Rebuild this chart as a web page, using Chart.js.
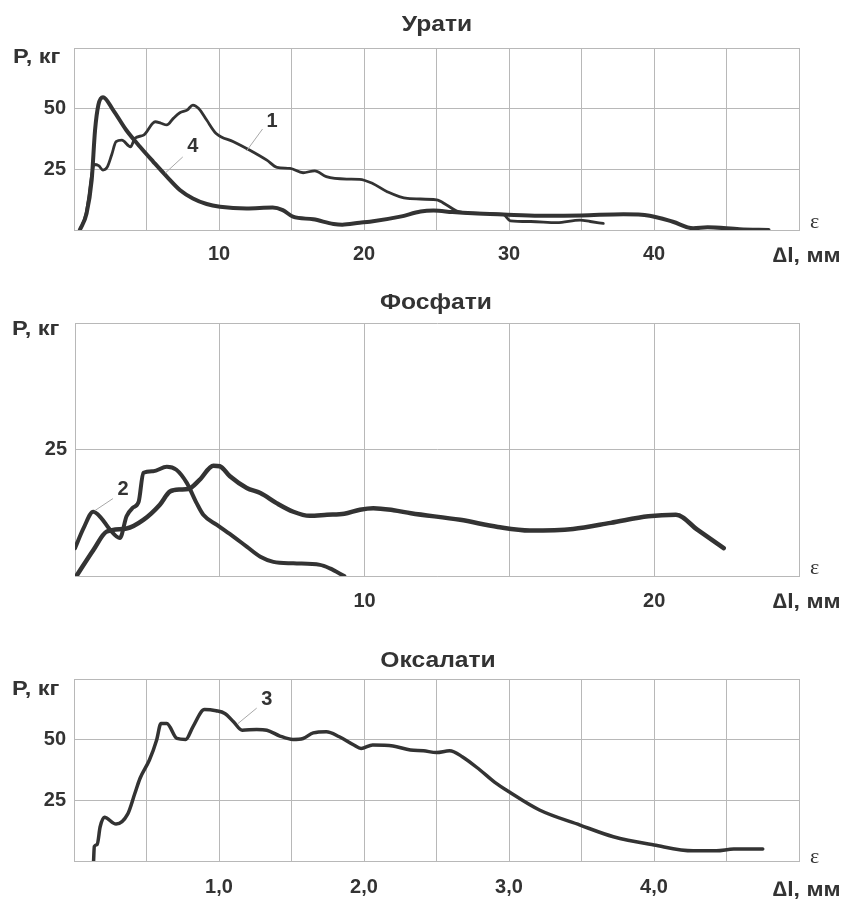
<!DOCTYPE html>
<html><head><meta charset="utf-8">
<script src="https://cdn.jsdelivr.net/npm/chart.js@4.4.1/dist/chart.umd.min.js"></script>
<style>
body{margin:0;background:#fff;width:846px;height:899px;position:relative;overflow:hidden;font-family:"Liberation Sans",Arial,sans-serif;color:#333}
canvas{position:absolute;left:0;top:0}
.t{position:absolute;font-weight:bold;white-space:nowrap;line-height:1;font-size:22px;transform:translate(-50%,-50%) scaleX(1.12)}
.l{position:absolute;font-weight:bold;white-space:nowrap;line-height:1;font-size:20px;transform-origin:0 50%;transform:translateY(-50%) scaleX(1.18)}
.d{position:absolute;font-weight:bold;white-space:nowrap;line-height:1;font-size:21px;transform-origin:0 50%;transform:translateY(-50%) scaleX(1.1)}
.eps{position:absolute;font-family:"Liberation Serif","DejaVu Serif",serif;font-size:22px;line-height:1;transform:translateY(-50%)}
</style></head><body>
<canvas id="c1" width="846" height="899"></canvas>
<canvas id="c2" width="846" height="899"></canvas>
<canvas id="c3" width="846" height="899"></canvas>

<div class="t" style="left:437px;top:24px">Урати</div>
<div class="l" style="left:13px;top:56px">P, кг</div>
<div class="eps" style="left:810px;top:221px">ε</div>
<div class="d" style="left:773px;top:254px">∆l, мм</div>

<div class="t" style="left:436px;top:302px">Фосфати</div>
<div class="l" style="left:12px;top:328px">P, кг</div>
<div class="eps" style="left:810px;top:567px">ε</div>
<div class="d" style="left:773px;top:600px">∆l, мм</div>

<div class="t" style="left:438px;top:660px">Оксалати</div>
<div class="l" style="left:12px;top:688px">P, кг</div>
<div class="eps" style="left:810px;top:856px">ε</div>
<div class="d" style="left:773px;top:888px">∆l, мм</div>

<script>
// ---- Урати (panel 1) ----
const urate1X = [0.4,0.8,1.0,1.2,1.4,1.7,2.0,2.3,2.6,2.9,3.3,3.9,4.2,4.8,5.6,6.0,6.4,6.85,7.3,7.8,8.2,8.6,9.15,9.8,11.0,12.1,13.3,14.0,14.9,15.8,16.6,17.4,18.8,19.7,20.6,21.6,23.0,25.0,25.7,26.4,27.5,29.6,30.1,31.5,33.3,34.9,35.6,36.5];
const urate1Y = [0,6,13,22,27,26.5,24.7,26,31,36.4,37,34.3,37.8,39.1,44.6,44,43.3,46,48.3,49.4,51.5,50.1,45.3,39.8,36.4,33,28.8,25.8,25.4,23.6,24.4,22,21,20.9,19.2,15.8,13,12.4,10.3,7.8,6.9,6.4,3.8,3.5,3.0,4.1,3.5,2.7];
const urate4X = [0.4,0.87,1.22,1.45,1.68,2.0,2.7,3.6,4.55,5.47,6.4,7.3,8.2,9.15,10.07,11.9,13.7,14.4,15.1,16.5,17.9,18.5,19.7,20.4,22.5,23.9,24.8,26.1,27.5,29.6,32.1,35.0,37.9,39.7,41.3,42.7,43.7,45.9,47.9];
const urate4Y = [0,6.9,20.6,41,51.5,54.7,49.4,41.2,34.3,28.1,22,16.5,13,10.7,9.6,8.9,9.3,8.2,5.5,4.4,2.5,2.2,3.0,3.4,5.5,7.6,8.0,7.4,6.9,6.4,5.9,6.0,6.5,5.9,3.4,0.7,1.1,0.3,0];
const urateXTicks = [10,20,30,40];
const urateYTicks = [25,50];

// ---- Фосфати (panel 2) ----
const phos2X = [0,0.3,0.63,0.9,1.2,1.55,1.78,2.0,2.2,2.36,2.7,3.17,3.5,3.86,4.2,4.43,4.9,5.47,5.93,6.4,6.85,7.54,8.46,8.8,9.3];
const phos2Y = [5.5,9.5,12.7,11.5,9.2,7.5,11.8,13.5,14.7,20.4,20.7,21.6,21,18.4,14.4,12.1,10.1,7.8,5.8,3.8,2.8,2.5,2.2,1.5,0];
const phosLongX = [0.05,0.63,1.1,1.78,2.36,2.93,3.28,3.63,3.91,4.3,4.78,5.0,5.35,5.93,6.4,6.96,7.54,8.1,8.7,9.3,9.84,10.3,11.0,11.6,13.3,14.6,15.7,17.2,18.5,19.8,20.75,21.5,22.4];
const phosLongY = [0,5.1,8.8,9.4,11.1,14.1,16.7,17.1,17.2,19,21.8,21.7,19.7,17.4,16.4,14.4,12.7,11.9,12.1,12.3,13.1,13.4,13.0,12.4,11.1,9.7,9.0,9.3,10.5,11.8,12.1,9.1,5.5];
const phosXTicks = [10,20];
const phosYTicks = [25];

// ---- Оксалати (panel 3) ----
const oxal3X = [0.135,0.14,0.16,0.18,0.21,0.29,0.37,0.42,0.455,0.52,0.57,0.6,0.64,0.71,0.77,0.82,0.9,0.98,1.04,1.1,1.16,1.26,1.33,1.42,1.51,1.58,1.65,1.74,1.83,1.93,1.98,2.06,2.2,2.32,2.41,2.5,2.59,2.68,2.8,2.9,3.0,3.21,3.49,3.72,4.0,4.27,4.43,4.55,4.75];
const oxal3Y = [0,6,6.8,14,18,15.2,19.3,27.9,34,41.6,49.9,56.7,56.7,50.5,50.1,55.3,62.4,61.9,60.8,57.4,53.9,54.2,53.9,51.5,50.1,50.5,52.8,53.3,51.2,47.8,46.4,47.8,47.4,45.7,45.4,44.7,45.4,42.9,37.5,32.5,28.5,21,14.8,10,6.6,4.2,4.2,4.9,4.9];
const oxalXTicks = [1,2,3,4];
const oxalYTicks = [25,50];

// curve number labels with leader lines (data coordinates)
const urateNotes = [
  {text:'1', tx:13.66, ty:44.9, x1:13.0, y1:41.6, x2:11.9, y2:32.6},
  {text:'4', tx:8.2, ty:34.6, x1:7.5, y1:30.1, x2:6.3, y2:23.5}
];
const phosNotes = [
  {text:'2', tx:1.66, ty:17.1, x1:1.31, y1:15.3, x2:0.68, y2:12.9}
];
const oxalNotes = [
  {text:'3', tx:1.33, ty:66.7, x1:1.26, y1:63, x2:1.13, y2:56.6}
];

const FONT = "'Liberation Sans', Arial, sans-serif";
const TXT = '#333333';
const GRID = '#b8b8b8';
const LINE = '#333333';

function pts(xs, ys){ return xs.map((x,i)=>({x:x, y:ys[i]})); }
function near(v, list){ return list.some(t=>Math.abs(v-t)<1e-6); }

function makeChart(id, cfg){
  const notesPlugin = {
    id:'notes'+id,
    afterDatasetsDraw(chart){
      const ctx = chart.ctx, xs = chart.scales.x, ys = chart.scales.y;
      ctx.save();
      cfg.notes.forEach(n=>{
        ctx.strokeStyle = '#a8a8a8'; ctx.lineWidth = 1;
        ctx.beginPath();
        ctx.moveTo(xs.getPixelForValue(n.x1), ys.getPixelForValue(n.y1));
        ctx.lineTo(xs.getPixelForValue(n.x2), ys.getPixelForValue(n.y2));
        ctx.stroke();
        ctx.fillStyle = TXT;
        ctx.font = 'bold 20px ' + FONT;
        ctx.textAlign = 'center'; ctx.textBaseline = 'middle';
        ctx.fillText(n.text, xs.getPixelForValue(n.tx), ys.getPixelForValue(n.ty));
      });
      ctx.restore();
    }
  };
  return new Chart(document.getElementById(id), {
    type:'line',
    data:{ datasets: cfg.datasets.map(d=>({
      data: pts(d.x, d.y), borderColor: LINE, borderWidth: d.w, pointRadius:0,
      fill:false, tension:0.4, cubicInterpolationMode:'monotone', borderCapStyle:'round', borderJoinStyle:'round'
    }))},
    options:{
      responsive:false, devicePixelRatio:1, animation:false, parsing:true,
      layout:{ padding:{ top:cfg.top, left:0, right:846-cfg.right, bottom:899-cfg.bottom-40 } },
      plugins:{ legend:{display:false}, tooltip:{enabled:false}, title:{display:false} },
      scales:{
        x:{ type:'linear', min:cfg.xMin, max:cfg.xMax,
            afterFit(s){ s.height = 40; },
            grid:{ color:GRID, lineWidth:1, drawTicks:false },
            border:{ display:true, color:GRID, width:1 },
            ticks:{ stepSize:cfg.xStep, autoSkip:false, maxRotation:0, padding:cfg.xPad, color:TXT,
                    font:{family:FONT, size:20, weight:'bold'},
                    callback:(v)=> near(v, cfg.xTicks) ? cfg.xFmt(v) : '' } },
        y:{ type:'linear', min:0, max:cfg.yMax,
            afterFit(s){ s.width = cfg.left; },
            grid:{ color:GRID, lineWidth:1, drawTicks:false },
            border:{ display:true, color:GRID, width:1 },
            ticks:{ stepSize:cfg.yStep, padding:8, color:TXT,
                    font:{family:FONT, size:20, weight:'bold'},
                    callback:(v)=> near(v, cfg.yTicks) ? String(v) : '' } }
      }
    },
    plugins:[notesPlugin]
  });
}

makeChart('c1', { top:48, bottom:230, left:74, right:799, xMin:0, xMax:50, xStep:5, yMax:75, yStep:25, xPad:12,
  xTicks:urateXTicks, yTicks:urateYTicks, xFmt:v=>String(Math.round(v)),
  datasets:[ {x:urate1X, y:urate1Y, w:2.8}, {x:urate4X, y:urate4Y, w:4} ], notes:urateNotes });

makeChart('c2', { top:323, bottom:576, left:75, right:799, xMin:0, xMax:25, xStep:5, yMax:50, yStep:25, xPad:13,
  xTicks:phosXTicks, yTicks:phosYTicks, xFmt:v=>String(Math.round(v)),
  datasets:[ {x:phos2X, y:phos2Y, w:4}, {x:phosLongX, y:phosLongY, w:4.5} ], notes:phosNotes });

makeChart('c3', { top:679, bottom:861, left:74, right:799, xMin:0, xMax:5, xStep:0.5, yMax:75, yStep:25, xPad:14,
  xTicks:oxalXTicks, yTicks:oxalYTicks, xFmt:v=>v.toFixed(1).replace('.', ','),
  datasets:[ {x:oxal3X, y:oxal3Y, w:3.5} ], notes:oxalNotes });
</script>
</body></html>
